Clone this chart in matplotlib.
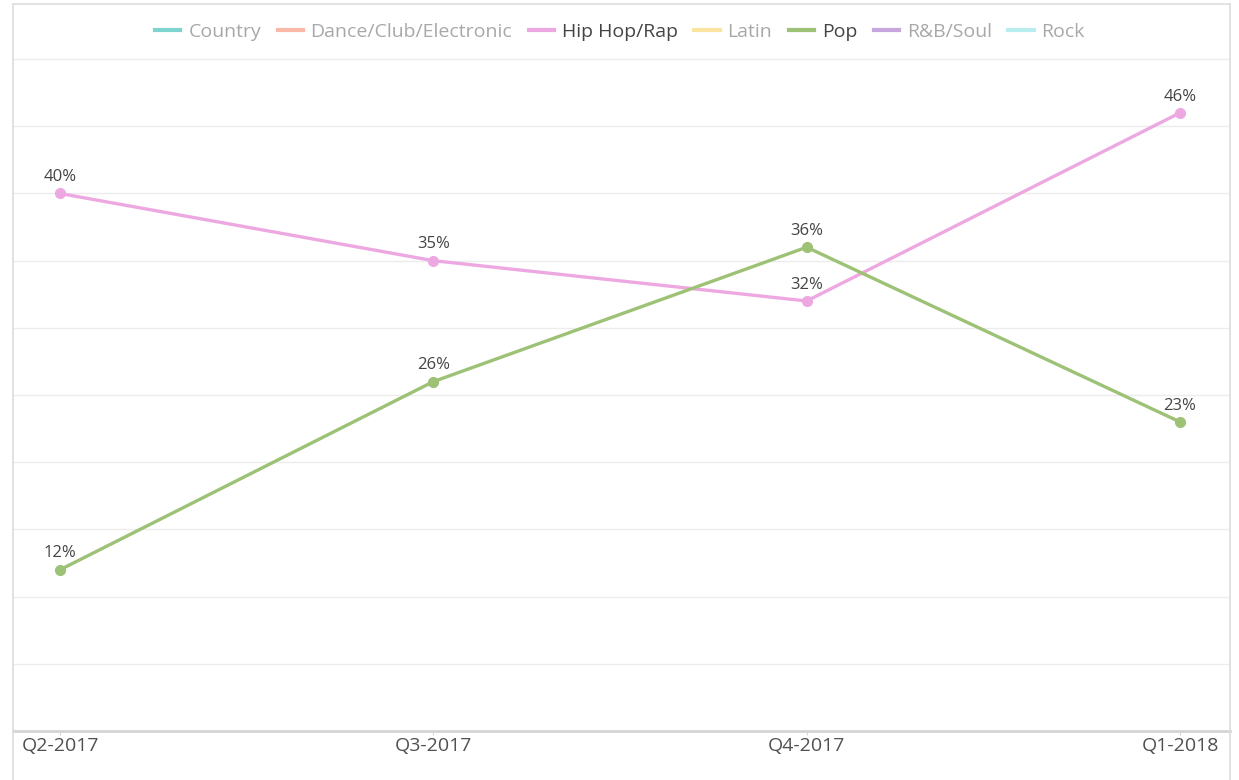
import matplotlib.pyplot as plt
from matplotlib.lines import Line2D

plt.rcParams['font.family'] = ['Open Sans', 'DejaVu Sans']

quarters = ["Q2-2017", "Q3-2017", "Q4-2017", "Q1-2018"]
genres = ["Country", "Dance/Club/Electronic", "Hip Hop/Rap", "Latin",
          "Pop", "R&B/Soul", "Rock"]
genre_colors = ["#7fd4cf", "#f9b8a8", "#eda8e2", "#fbe3a0",
                "#9dc276", "#c6a6dc", "#b8eeee"]
shown = ["Hip Hop/Rap", "Pop"]

hiphop = [40, 35, 32, 46]
pop = [12, 26, 36, 23]
series = {"Hip Hop/Rap": hiphop, "Pop": pop}

fig = plt.figure(figsize=(12.39, 7.8), dpi=100)
ax = fig.add_axes([13 / 1239, 49 / 780, 1217 / 1239, 727 / 780])

x = list(range(len(quarters)))
for name in shown:
    col = genre_colors[genres.index(name)]
    vals = series[name]
    ax.plot(x, vals, color=col, lw=2.4, marker='o', ms=7, zorder=3,
            solid_capstyle='round')
    for xi, v in zip(x, vals):
        ax.annotate(f"{v}%", (xi, v), xytext=(0, 6), textcoords='offset points',
                    ha='center', va='bottom', fontsize=12, color='#444444')

ax.set_xlim(-0.126, 3.134)
ax.set_ylim(0, 54.1)
ax.set_yticks(range(0, 51, 5))
ax.yaxis.grid(True, color='#ececec', lw=1)
ax.set_axisbelow(True)
ax.tick_params(axis='y', left=False, labelleft=False)
ax.set_xticks(x)
ax.set_xticklabels(quarters, fontsize=14, color='#505050')
ax.tick_params(axis='x', length=3, color='#d8d8d8', pad=1.5)
for s in ['left', 'right', 'top']:
    ax.spines[s].set_color('#dddddd')
    ax.spines[s].set_linewidth(1.2)
ax.spines['bottom'].set_color('#d4d4d4')
ax.spines['bottom'].set_linewidth(2)

# frame sides run down past the axis
fig.add_artist(Line2D([13 / 1239, 13 / 1239], [0, 49 / 780], color='#dddddd', lw=1.2))
fig.add_artist(Line2D([1230 / 1239, 1230 / 1239], [0, 49 / 780], color='#dddddd', lw=1.2))

handles = [Line2D([], [], color=c, lw=3) for c in genre_colors]
leg = fig.legend(handles, genres, loc='center', bbox_to_anchor=(620 / 1239, 1 - 32 / 780),
                 ncol=7, frameon=False, fontsize=14, handlelength=1.3,
                 handletextpad=0.4, columnspacing=0.85)
for txt, g in zip(leg.get_texts(), genres):
    txt.set_color('#444444' if g in shown else '#a8a8a8')

fig.savefig("out.png", dpi=100, facecolor='white')
